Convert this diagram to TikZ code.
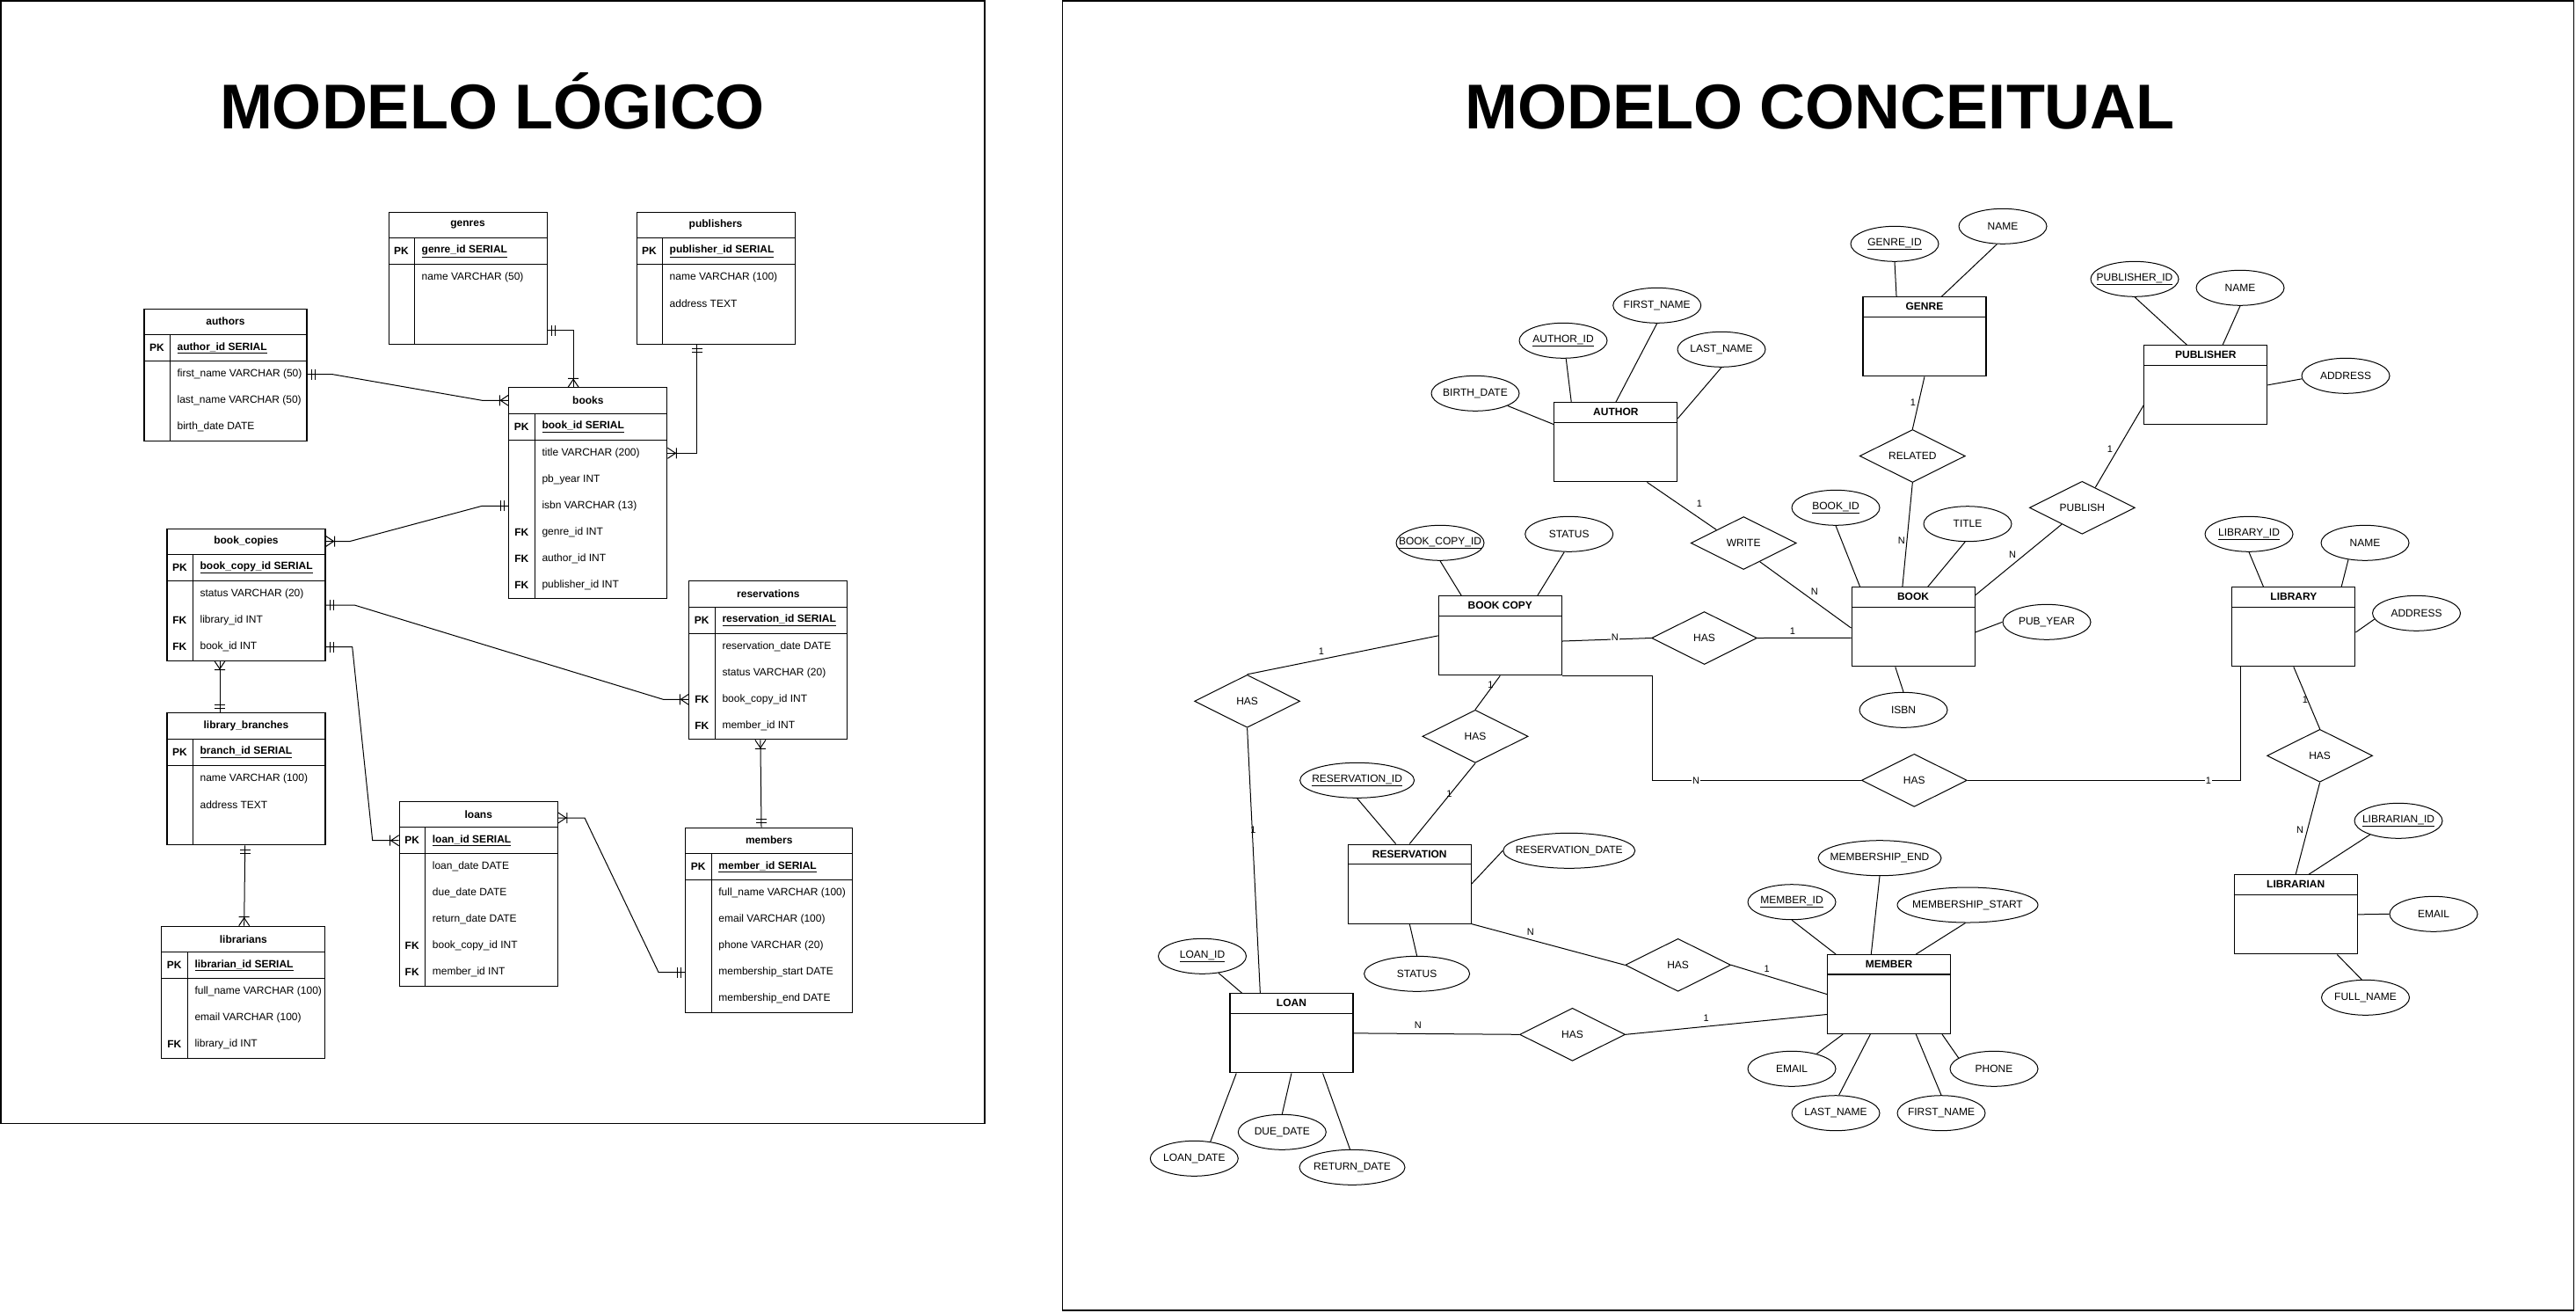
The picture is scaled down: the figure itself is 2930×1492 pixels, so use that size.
\documentclass[tikz,border=0pt]{standalone}
\usepackage{fontspec}
\setmainfont{Liberation Sans}
\usetikzlibrary{shapes.geometric,calc}

\newcommand{\pkf}[1]{\underline{\textbf{#1}}}
\newcommand{\mandone}[2]{\begin{scope}[shift={(#1)},rotate=#2]\draw[erl] (5,-6)--(5,6) (9,-6)--(9,6);\end{scope}}
\newcommand{\onemany}[2]{\begin{scope}[shift={(#1)},rotate=#2]\draw[erl] (0,-6)--(9,0)--(0,6) (10,-6)--(10,6);\end{scope}}

% #1 id, #2 x, #3 y, #4 width, #5 title, #6 number of rows, #7 rows key/text
\newcommand{\dbtable}[7]{%
  \pgfmathsetmacro\tblh{30+30*#6}
  \node[tbox, minimum width=#4pt, minimum height=\tblh pt, anchor=north west] (#1) at (#2,#3) {};
  \node[thead] (#1-h) at ($(#1.north)+(0,15)$) {#5};
  \draw[tline] ($(#1.north west)+(0,30)$) -- ($(#1.north east)+(0,30)$);
  \draw[tline] ($(#1.north west)+(0,60)$) -- ($(#1.north east)+(0,60)$);
  \draw[tline] ($(#1.north west)+(30,30)$) -- ($(#1.south west)+(30,0)$);
  \foreach \k/\t [count=\i from 0] in {#7} {
    \node[tkey] (#1-k\i) at ($(#1.north west)+(15,45+30*\i)$) {\k};
    \node[tfield] (#1-\i) at ($(#1.north west)+(38,45+30*\i)$) {\t};
  }%
}
% entity: id, x, y, title
\newcommand{\entity}[4]{%
  \node[ent, anchor=north west] (#1) at (#2,#3) {};
  \draw[tline] ($(#1.north west)+(0,23)$) -- ($(#1.north east)+(0,23)$);
  \node[etitle] (#1-t) at ($(#1.north)+(0,11.5)$) {#4};
}
% attribute: id, x, y, width, text
\newcommand{\attr}[5]{%
  \node[attrs, minimum width=#4pt] (#1) at (#2,#3) {\makebox[0pt][c]{#5}};
}
% relationship: id, x, y, text
\newcommand{\rel}[4]{%
  \node[relsh] (#1) at (#2,#3) {\makebox[0pt][c]{#4}};
}

\begin{document}
\begin{tikzpicture}[x=1pt,y=-1pt,
  every node/.style={font=\fontsize{12}{14}\selectfont},
  erl/.style={line width=1pt},
  eline/.style={line width=1pt},
  tline/.style={line width=1.1pt},
  frame/.style={line width=1.6pt},
  tbox/.style={draw, rectangle, inner sep=0pt, line width=1.1pt},
  thead/.style={font=\fontsize{12}{14}\selectfont\bfseries, inner sep=0pt},
  tkey/.style={font=\fontsize{12}{14}\selectfont\bfseries, inner sep=0pt},
  tfield/.style={anchor=west, inner sep=0pt},
  ent/.style={draw, rectangle, minimum width=140pt, minimum height=90pt, inner sep=0pt, line width=1.1pt},
  etitle/.style={font=\fontsize{12}{14}\selectfont\bfseries, inner sep=0pt},
  attrs/.style={draw, ellipse, minimum height=40pt, inner sep=0pt, line width=1pt},
  relsh/.style={draw, diamond, aspect=2, minimum width=120pt, minimum height=60pt, inner sep=0pt, line width=1pt},
  card/.style={font=\fontsize{11}{13}\selectfont, inner sep=1pt},
  cardw/.style={font=\fontsize{11}{13}\selectfont, inner sep=1pt, fill=white},
  titl/.style={font=\fontsize{72}{80}\selectfont\bfseries, inner sep=0pt, anchor=base}]

\useasboundingbox (0,0) rectangle (2930,1492);

% frames
\draw[frame] (0.9,0.9) rectangle (1120,1277.5);
\draw[frame] (1208.5,0.9) rectangle (2927.5,1490);

% titles
\node[titl] (t1) at (560,146) {MODELO LÓGICO};
\node[titl] (t2) at (2070,146) {MODELO CONCEITUAL};

% ================= LEFT: logical model =================
\dbtable{authors}{163.4}{350.7}{185}{authors}{4}{PK/\pkf{author\_id SERIAL}, /first\_name VARCHAR (50), /last\_name VARCHAR (50), /birth\_date DATE}
\dbtable{genres}{441.5}{240.7}{180}{genres}{4}{PK/\pkf{genre\_id SERIAL}, /name VARCHAR (50)}
\dbtable{publishers}{723.5}{240.7}{180}{publishers}{4}{PK/\pkf{publisher\_id SERIAL}, /name VARCHAR (100), /address TEXT}
\dbtable{books}{578.3}{440.3}{180}{books}{7}{PK/\pkf{book\_id SERIAL}, /title VARCHAR (200), /pb\_year INT, /isbn VARCHAR (13), FK/genre\_id INT, FK/author\_id INT, FK/publisher\_id INT}
\dbtable{bookcopies}{189.4}{600.5}{180}{book\_copies}{4}{PK/\pkf{book\_copy\_id SERIAL}, /status VARCHAR (20), FK/library\_id INT, FK/book\_id INT}
\dbtable{libbranches}{189.4}{810.3}{180}{library\_branches}{4}{PK/\pkf{branch\_id SERIAL}, /name VARCHAR (100), /address TEXT}
\dbtable{librarians}{183.3}{1052.7}{186}{librarians}{4}{PK/\pkf{librarian\_id SERIAL}, /full\_name VARCHAR (100), /email VARCHAR (100), FK/library\_id INT}
\dbtable{reservations}{783.3}{660.3}{180}{reservations}{5}{PK/\pkf{reservation\_id SERIAL}, /reservation\_date DATE, /status VARCHAR (20), FK/book\_copy\_id INT, FK/member\_id INT}
\dbtable{loans}{453.7}{910.7}{180}{loans}{6}{PK/\pkf{loan\_id SERIAL}, /loan\_date DATE, /due\_date DATE, /return\_date DATE, FK/book\_copy\_id INT, FK/member\_id INT}
\dbtable{members}{779.2}{940.5}{190}{members}{6}{PK/\pkf{member\_id SERIAL}, /full\_name VARCHAR (100), /email VARCHAR (100), /phone VARCHAR (20), /membership\_start DATE, /membership\_end DATE}

% connectors
\coordinate (c1a) at (authors.east |- authors-1);
\coordinate (c1b) at (books.west |- books-h);
\draw[erl] (c1a) -- ++(29,0) -- ($(c1b)+(-30,0)$) -- (c1b);
\mandone{c1a}{0}\onemany{c1b}{180}

\coordinate (c2a) at ($(genres.north east)+(0,135)$);
\coordinate (c2b) at ($(c2a)+(29.5,0)$);
\coordinate (c2c) at (c2b |- books.north);
\draw[erl] (c2a) -- (c2b) -- (c2c);
\mandone{c2a}{0}\onemany{c2c}{90}

\coordinate (c3a) at ($(publishers.south west)+(69.2,0)$);
\coordinate (c3b) at (books.east |- books-1);
\draw[erl] (c3a) -- (c3a |- c3b) -- (c3b);
\mandone{c3a}{270}\onemany{c3b}{0}

\coordinate (c4a) at (books.west |- books-3);
\coordinate (c4b) at (bookcopies.east |- bookcopies-h);
\draw[erl] (c4a) -- ++(-30,0) -- ($(c4b)+(27.6,0)$) -- (c4b);
\mandone{c4a}{180}\onemany{c4b}{0}

\coordinate (c5a) at ($(bookcopies.north east)+(0,87.5)$);
\coordinate (c5b) at (reservations.west |- reservations-3);
\draw[erl] (c5a) -- ++(32.6,0) -- ($(c5b)+(-29,0)$) -- (c5b);
\mandone{c5a}{0}\onemany{c5b}{180}

\coordinate (c6a) at (bookcopies.east |- bookcopies-3);
\coordinate (c6b) at (loans.west |- loans-0);
\draw[erl] (c6a) -- ++(30.2,0) -- ($(c6b)+(-30,0)$) -- (c6b);
\mandone{c6a}{0}\onemany{c6b}{180}

\coordinate (c7a) at ($(bookcopies.south west)+(60.6,0)$);
\coordinate (c7b) at (c7a |- libbranches.north);
\draw[erl] (c7a) -- (c7b);
\onemany{c7a}{270}\mandone{c7b}{90}

\coordinate (c8a) at ($(libbranches.south west)+(89.3,0)$);
\coordinate (c8b) at ($(librarians.north west)+(94.4,0)$);
\draw[erl] (c8a) -- (c8b);
\mandone{c8a}{270}\onemany{c8b}{90}

\coordinate (c9a) at ($(reservations.south west)+(81.6,0)$);
\coordinate (c9b) at ($(members.north west)+(86.8,0)$);
\draw[erl] (c9a) -- (c9b);
\onemany{c9a}{270}\mandone{c9b}{90}

\coordinate (c10a) at ($(loans.north east)+(0,19.3)$);
\coordinate (c10b) at (members.west |- members-4);
\draw[erl] (c10a) -- ++(30.2,0) -- ($(c10b)+(-30.2,0)$) -- (c10b);
\onemany{c10a}{0}\mandone{c10b}{180}

% ================= RIGHT: conceptual model =================
\entity{author}{1767.3}{457.3}{AUTHOR}
\entity{genre}{2118.4}{337.3}{GENRE}
\entity{publisher}{2438.2}{392.3}{PUBLISHER}
\entity{book}{2105.5}{667.3}{BOOK}
\entity{bookcopy}{1635.7}{677.3}{BOOK COPY}
\entity{library}{2538.3}{667.3}{LIBRARY}
\entity{reservation}{1532.7}{959.5}{RESERVATION}
\entity{librarian}{2540.6}{994.3}{LIBRARIAN}
\entity{loan}{1398.4}{1129.3}{LOAN}
\entity{member}{2078}{1085}{MEMBER}

\attr{authorid}{1778}{387.3}{100}{\underline{AUTHOR\_ID}}
\attr{afirst}{1884.7}{347.3}{100}{FIRST\_NAME}
\attr{alast}{1958}{397.3}{100}{LAST\_NAME}
\attr{abirth}{1678}{447.3}{100}{BIRTH\_DATE}
\attr{genreid}{2155}{277.3}{100}{\underline{GENRE\_ID}}
\attr{gname}{2278}{257.3}{100}{NAME}
\attr{pubid}{2428}{317.3}{100}{\underline{PUBLISHER\_ID}}
\attr{pname}{2548}{327.3}{100}{NAME}
\attr{paddr}{2668}{427.3}{100}{ADDRESS}
\attr{bookid}{2088}{577.3}{100}{\underline{BOOK\_ID}}
\attr{btitle}{2238}{595.7}{100}{TITLE}
\attr{byear}{2328}{707.3}{100}{PUB\_YEAR}
\attr{bisbn}{2165}{807.3}{100}{ISBN}
\attr{bcid}{1638}{617.3}{100}{\underline{BOOK\_COPY\_ID}}
\attr{bcstatus}{1784.7}{607.3}{100}{STATUS}
\attr{libid}{2558}{607.3}{100}{\underline{LIBRARY\_ID}}
\attr{lname}{2690}{617.3}{100}{NAME}
\attr{laddr}{2748.5}{697.3}{100}{ADDRESS}
\attr{resid}{1543.6}{887.3}{130}{\underline{RESERVATION\_ID}}
\attr{resdate}{1784.7}{967.3}{150}{RESERVATION\_DATE}
\attr{resstatus}{1611.6}{1107.3}{120}{STATUS}
\attr{lbid}{2728}{933.3}{100}{\underline{LIBRARIAN\_ID}}
\attr{lbemail}{2768}{1039.3}{100}{EMAIL}
\attr{lbname}{2690.5}{1134.3}{100}{FULL\_NAME}
\attr{loanid}{1367.5}{1087.3}{100}{\underline{LOAN\_ID}}
\attr{loandate}{1358.3}{1317.3}{100}{LOAN\_DATE}
\attr{duedate}{1458.3}{1287.3}{100}{DUE\_DATE}
\attr{retdate}{1538}{1327.3}{120}{RETURN\_DATE}
\attr{memid}{2038}{1025.7}{100}{\underline{MEMBER\_ID}}
\attr{memend}{2138}{975.7}{140}{MEMBERSHIP\_END}
\attr{memstart}{2238}{1029}{160}{MEMBERSHIP\_START}
\attr{memail}{2038}{1215.3}{100}{EMAIL}
\attr{mlast}{2088}{1265.7}{100}{LAST\_NAME}
\attr{mfirst}{2208}{1265.7}{100}{FIRST\_NAME}
\attr{mphone}{2268}{1215.3}{100}{PHONE}

\rel{write}{1983.2}{617.5}{WRITE}
\rel{related}{2175.3}{518.5}{RELATED}
\rel{publish}{2368.3}{577.3}{PUBLISH}
\rel{hasbb}{1938.5}{725.5}{HAS}
\rel{hasbl}{1418.6}{797.3}{HAS}
\rel{hasbr}{1678}{837.3}{HAS}
\rel{hasbig}{2177.3}{887.3}{HAS}
\rel{haslib}{2638.6}{859.3}{HAS}
\rel{hasrm}{1908.6}{1097.3}{HAS}
\rel{haslm}{1788.5}{1176.3}{HAS}

% attribute links
\draw[eline] (authorid.279) -- (author.138.9);
\draw[eline] (afirst.south) -- (author.north);
\draw[eline] (alast.south) -- (author.21.2);
\draw[eline] (abirth.339) -- (author.164);
\draw[eline] (genreid.south) -- (genre.125.2);
\draw[eline] (gname.252) -- (genre.67.4);
\draw[eline] (pubid.south) -- (publisher.115);
\draw[eline] (pname.south) -- (publisher.67.8);
\draw[eline] (paddr.184) -- (publisher.east);
\draw[eline] (bookid.south) -- (book.143.8);
\draw[eline] (btitle.262) -- (book.70.1);
\draw[eline] (byear.west) -- (book.355.9);
\draw[eline] (bisbn.north) -- (book.246.6);
\draw[eline] (bcid.south) -- (bookcopy.134);
\draw[eline] (bcstatus.255) -- (bookcopy.47.2);
\draw[eline] (libid.south) -- (library.127.9);
\draw[eline] (lname.225) -- (library.40.6);
\draw[eline] (laddr.188) -- (library.355.9);
\draw[eline] (resid.south) -- (reservation.109.1);
\draw[eline] (resdate.west) -- (reservation.east);
\draw[eline] (resstatus.north) -- (reservation.south);
\draw[eline] (lbid.206.8) -- (librarian.72.3);
\draw[eline] (lbemail.west) -- (librarian.east);
\draw[eline] (lbname.102) -- (librarian.316.5);
\draw[eline] (loanid.314.2) -- (loan.141.6);
\draw[eline] (loandate.46.7) -- (loan.216.7);
\draw[eline] (duedate.north) -- (loan.south);
\draw[eline] (retdate.97) -- (loan.308);
\draw[eline] (memid.south) -- (member.143.4);
\draw[eline] (memend.south) -- (member.114.5);
\draw[eline] (memstart.263) -- (member.56.8);
\draw[eline] (memail.31.9) -- (member.221.7);
\draw[eline] (mlast.80) -- (member.245.5);
\draw[eline] (mfirst.north) -- (member.304.4);
\draw[eline] (mphone.163.9) -- (member.323.5);

% relationship links
\draw[eline] (author.308.4) -- (write.154);
\draw[eline] (write.311.2) -- (book.181);
\draw[eline] (genre.south) -- (related.north);
\draw[eline] (related.south) -- (book.105.8);
\draw[eline] (publisher.198.5) -- (publish.57.4);
\draw[eline] (publish.219.3) -- (book.27.4);
\draw[eline] (bookcopy.355.9) -- (hasbb.west);
\draw[eline] (hasbb.east) -- (book.190.8);
\draw[eline] (bookcopy.west) -- (hasbl.north);
\draw[eline] (hasbl.south) -- (loan.128.2);
\draw[eline] (bookcopy.south) -- (hasbr.north);
\draw[eline] (hasbr.south) -- (reservation.north);
\coordinate (c13) at ($(bookcopy.south east)+(103.1,0)$);
\draw[eline] (bookcopy.south east) -- (c13) -- (c13 |- hasbig.west) -- (hasbig.west);
\coordinate (c14) at ($(library.south west)+(10,0)$);
\draw[eline] (hasbig.east) -- (hasbig.east -| c14) -- (c14);
\draw[eline] (library.south) -- (haslib.north);
\draw[eline] (haslib.south) -- (librarian.north);
\draw[eline] (reservation.south east) -- (hasrm.west);
\draw[eline] (hasrm.east) -- (member.west);
\draw[eline] (loan.east) -- (haslm.west);
\draw[eline] (haslm.east) -- (member.198.4);

% cardinalities
\node[card] (k1) at (1933,572.3) {1};
\node[card] (k2) at (2063.8,672.7) {N};
\node[card] (k3) at (2176,457.3) {1};
\node[card] (k4) at (2162.8,615) {N};
\node[card] (k5) at (2400,510.7) {1};
\node[card] (k6) at (2289,630.7) {N};
\node[cardw] (k7) at (1836.7,724.3) {N};
\node[card] (k8) at (2039,717.3) {1};
\node[card] (k9) at (1503,741) {1};
\node[card] (k10) at (1425.5,944) {1};
\node[card] (k11) at (1695.4,778.3) {1};
\node[card] (k12) at (1648.5,902.3) {1};
\node[cardw] (k13) at (1929,887.3) {N};
\node[cardw] (k14) at (2512,887.3) {1};
\node[card] (k15) at (2622,796) {1};
\node[card] (k16) at (2616,944) {N};
\node[card] (k17) at (1740.7,1060) {N};
\node[card] (k18) at (2009.6,1101.7) {1};
\node[card] (k19) at (1612.7,1166) {N};
\node[card] (k20) at (1940.7,1157.7) {1};

\end{tikzpicture}
\end{document}
